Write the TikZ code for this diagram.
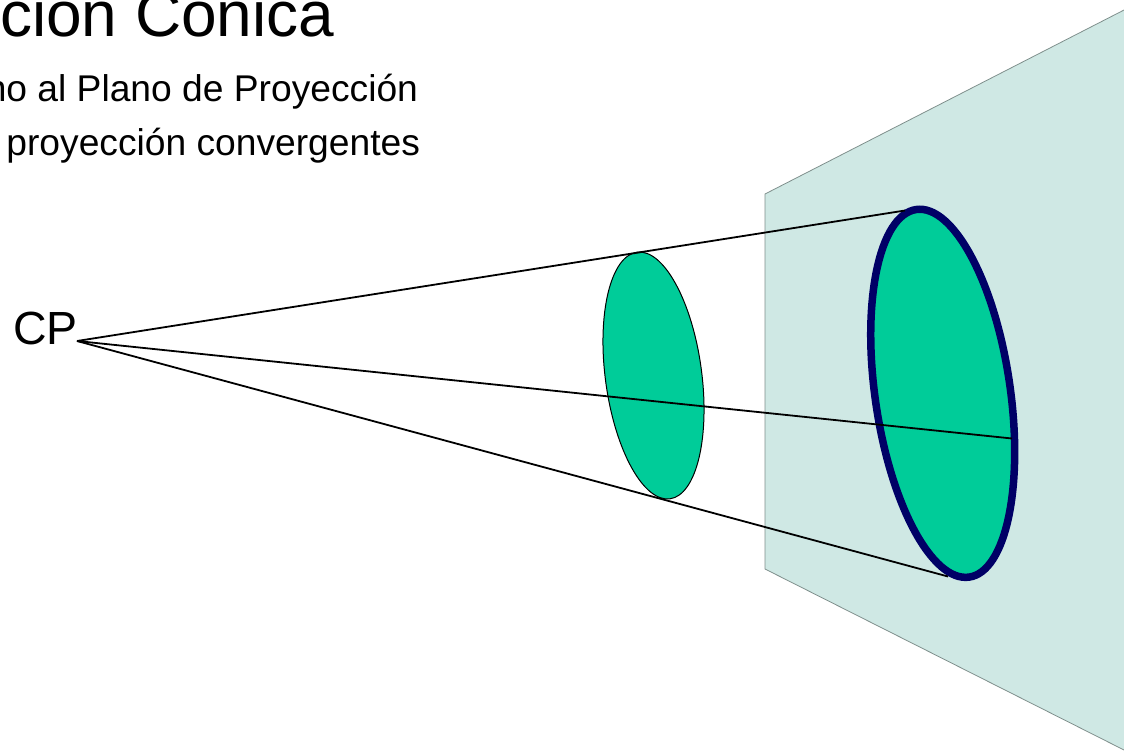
\documentclass[tikz,border=0pt]{standalone}
\usepackage{fontspec}
\setmainfont{Liberation Sans}
\usetikzlibrary{shapes.geometric}
\definecolor{plane}{HTML}{CFE8E4}
\definecolor{disc}{HTML}{00CC99}
\definecolor{navy}{HTML}{000066}
\definecolor{edge}{HTML}{7F8F8C}
\tikzset{
  label/.style={inner sep=0pt,outer sep=0pt,text=black},
  title/.style={label,font=\fontsize{64}{70}\selectfont},
  subtitle/.style={label,font=\fontsize{37.2}{44}\selectfont},
  point/.style={label,font=\fontsize{46.5}{52}\selectfont},
  planebox/.style={fill=plane,draw=edge,line width=0.8pt},
  discbase/.style={ellipse,fill=disc,inner sep=0pt,outer sep=0pt},
  section/.style={discbase,draw=black,line width=1pt},
  image/.style={discbase,draw=navy,line width=7.5pt},
  ray/.style={draw=black,line width=1.8pt}
}
\begin{document}
\begin{tikzpicture}[x=1pt,y=-1pt]
\useasboundingbox (0,0) rectangle (1124,753);

\draw[planebox] (765,194) -- (1126,9) -- (1126,751) -- (765,569) -- cycle;

\node[section,minimum width=96.4pt,minimum height=248.8pt,rotate=7.6] (smalldisc) at (653.5,375.5) {};
\node[image,minimum width=135.2pt,minimum height=371.4pt,rotate=8.2] (bigdisc) at (942.7,393.3) {};

\node[title,anchor=base west] (heading) at (0,36.5) {ción Cónica};
\node[subtitle,anchor=base east] (line1) at (418,101) {no al Plano de Proyección};
\node[subtitle,anchor=base east] (line2) at (420,155) {proyección convergentes};
\node[point,anchor=base west] (cp) at (13,344) {CP};

\coordinate (apex) at (77,341);
\coordinate (top) at (905,210.5);
\coordinate (mid) at (1012,438.5);
\coordinate (low) at (948,576.5);

\draw[ray] (apex) -- (top);
\draw[ray] (apex) -- (mid);
\draw[ray] (apex) -- (low);
\end{tikzpicture}
\end{document}
